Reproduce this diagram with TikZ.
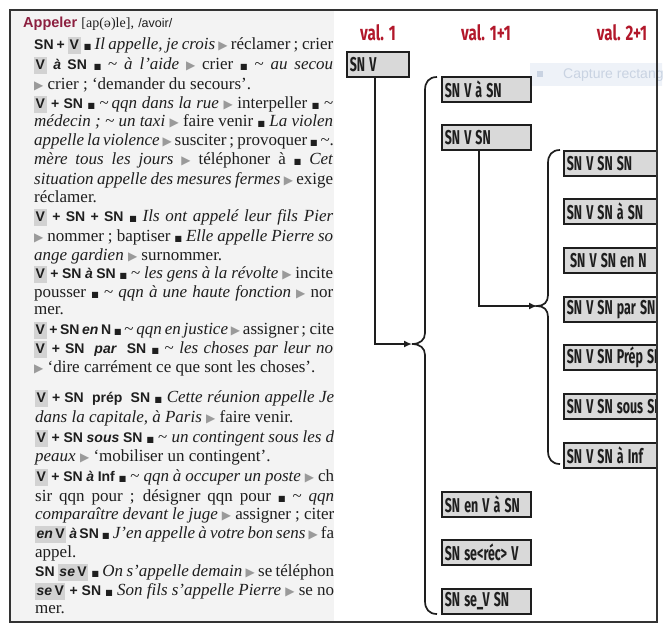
\documentclass[tikz,border=0pt]{standalone}
\usepackage{fontspec}
\usepackage{graphicx}
\setmainfont{Liberation Serif}
\setsansfont{Liberation Sans}
\newfontfamily\djsans{DejaVu Sans}
\newfontfamily\djserif{DejaVu Serif}
\newfontfamily\condf[FakeStretch=0.72]{Fira Sans}
\newfontfamily\firab{Fira Sans}
\usetikzlibrary{arrows.meta}
\definecolor{headred}{HTML}{8C1F3F}
\definecolor{valred}{HTML}{B2182B}
\definecolor{boxfill}{HTML}{D9D9D9}
\definecolor{vgray}{HTML}{D2D2D2}
\definecolor{trigray}{HTML}{9A9A9A}
\definecolor{ink}{HTML}{1E1E1E}
\definecolor{paper}{HTML}{F3F3F3}
\definecolor{capfill}{HTML}{EEF2F8}
\definecolor{captext}{HTML}{C9D3E2}
\newcommand\tri{{\color{trigray}\djsans\fontsize{12}{12}\selectfont ▶}}
\newcommand\sq{{\djsans\fontsize{8}{8}\selectfont ■}}
\newcommand\tl{{\char"007E}}
\newcommand\hd[1]{{\sffamily\bfseries\fontsize{14}{15}\selectfont #1}}
\newcommand\vb[1]{{\setlength\fboxsep{1.5pt}\colorbox{vgray}{\hd{\rule[-3pt]{0pt}{14pt}#1}}}}
\newcommand\fl[1]{\hbox to 299pt{#1}}
\newcommand\bt[1]{\scalebox{0.62}[1]{#1}}
\tikzset{
  dline/.style={anchor=base west, inner sep=0pt, text=ink, font=\fontsize{17}{19}\selectfont},
  bx/.style={draw=ink, line width=1.6pt, fill=boxfill, minimum height=25pt, inner xsep=3pt, inner ysep=0pt,
     anchor=north west, align=left, text=ink, font=\firab\bfseries\fontsize{20}{20}\selectfont},
  vallab/.style={text=valred, inner sep=0pt, font=\condf\bfseries\fontsize{21}{21}\selectfont},
  conn/.style={draw=ink, line width=1.7pt},
  arr/.style={conn, -{Latex[length=8pt,width=7pt]}}
}
\begin{document}
\begin{tikzpicture}[x=1pt,y=-1pt]
\useasboundingbox (0,0) rectangle (668,633);
% left page
\fill[paper] (10,10) rectangle (334,622);
\begin{scope}
\clip (10,10) rectangle (333,622);
\node[dline] (l1) at (23,27) {{\sffamily\bfseries\color{headred}\fontsize{14.5}{16}\selectfont Appeler} {\fontsize{14}{16}\selectfont [ap({\djserif\fontsize{12}{14}\selectfont ə})le],} {\sffamily\fontsize{12.5}{14}\selectfont /avoir/}};
\node[dline] (l2) at (34,49) {\fl{\hd{SN +} \vb{V} \sq\ \textit{Il appelle, je crois} \tri\ réclamer ; crier}};
\node[dline] (l3) at (34,69) {\fl{\vb{V} \hd{\textit{à} SN} \sq\ \tl\ \textit{à l’aide} \tri\ crier \sq\ \tl\ \textit{au secou}}};
\node[dline] (l4) at (34,89) {\tri\ crier ; ‘demander du secours’.};
\node[dline] (l5) at (34,108) {\fl{\vb{V} \hd{+ SN} \sq\ \tl\,\textit{qqn dans la rue} \tri\ interpeller \sq\ \tl}};
\node[dline] (l6) at (34,126) {\fl{\textit{médecin ; \tl\ un taxi} \tri\ faire venir \sq\ \textit{La violen}}};
\node[dline] (l7) at (34,145) {\fl{\textit{appelle la violence} \tri\ susciter ; provoquer \sq\ \tl.}};
\node[dline] (l8) at (34,164) {\fl{\textit{mère tous les jours} \tri\ téléphoner à \sq\ \textit{Cet}}};
\node[dline] (l9) at (34,184) {\fl{\textit{situation appelle des mesures fermes} \tri\ exige}};
\node[dline] (l10) at (34,202) {réclamer.};
\node[dline] (l11) at (34,221) {\fl{\vb{V} \hd{+ SN + SN} \sq\ \textit{Ils ont appelé leur fils Pier}}};
\node[dline] (l12) at (34,241) {\fl{\tri\ nommer ; baptiser \sq\ \textit{Elle appelle Pierre so}}};
\node[dline] (l13) at (34,260) {\textit{ange gardien} \tri\ surnommer.};
\node[dline] (l14) at (34,278) {\fl{\vb{V} \hd{+ SN \textit{à} SN} \sq\ \tl\ \textit{les gens à la révolte} \tri\ incite}};
\node[dline] (l15) at (34,297) {\fl{pousser \sq\ \tl\ \textit{qqn à une haute fonction} \tri\ nor}};
\node[dline] (l16) at (34,314) {mer.};
\node[dline] (l17) at (34,334) {\fl{\vb{V} \hd{+ SN \textit{en} N} \sq\ \tl\ \textit{qqn en justice} \tri\ assigner ; cite}};
\node[dline] (l18) at (34,353) {\fl{\vb{V} \hd{+ SN \ \textit{par} \ SN} \sq\ \tl\ \textit{les choses par leur no}}};
\node[dline] (l19) at (34,372) {\tri\ ‘dire carrément ce que sont les choses’.};
\node[dline] (l20) at (35,402) {\fl{\vb{V} \hd{+ SN \ prép \ SN} \sq\ \textit{Cette réunion appelle Je}}};
\node[dline] (l21) at (35,422) {\textit{dans la capitale, à Paris} \tri\ faire venir.};
\node[dline] (l22) at (35,442) {\fl{\vb{V} \hd{+ SN \textit{sous} SN} \sq\ \tl\ \textit{un contingent sous les d}}};
\node[dline] (l23) at (35,461) {\textit{peaux} \tri\ ‘mobiliser un contingent’.};
\node[dline] (l24) at (35,481) {\fl{\vb{V} \hd{+ SN \textit{à} Inf} \sq\ \tl\ \textit{qqn à occuper un poste} \tri\ ch}};
\node[dline] (l25) at (35,501) {\fl{sir qqn pour ; désigner qqn pour \sq\ \tl\ \textit{qqn}}};
\node[dline] (l26) at (35,519) {\fl{\textit{comparaître devant le juge} \tri\ assigner ; citer}};
\node[dline] (l27) at (35,538) {\fl{\vb{\textit{en}\,V} \hd{\textit{à}\,SN} \sq\ \textit{J’en appelle à votre bon sens} \tri\ fa}};
\node[dline] (l28) at (35,557) {appel.};
\node[dline] (l29) at (35,576) {\fl{\hd{SN} \vb{\textit{se}\,V} \sq\ \textit{On s’appelle demain} \tri\ se téléphon}};
\node[dline] (l30) at (35,595) {\fl{\vb{\textit{se}\,V} \hd{+ SN} \sq\ \textit{Son fils s’appelle Pierre} \tri\ se no}};
\node[dline] (l31) at (35,613) {mer.};
\end{scope}
% screenshot overlay
\begin{scope}
\clip (520,55) rectangle (662,95);
\fill[capfill] (530,63) rectangle (664,86);
\fill[captext] (537,71) rectangle (543,77);
\node[anchor=west, inner sep=0pt, text=captext, font=\sffamily\fontsize{14}{14}\selectfont] (cap) at (563,75) {Capture rectang};
\end{scope}
% right diagram
\node[vallab] (v1) at (378,33) {val. 1};
\node[vallab] (v2) at (486,33) {val. 1+1};
\node[vallab] (v3) at (622,33) {val. 2+1};
\node[bx, text width=56pt] (snv) at (346,51) {\bt{SN V}};
\node[bx, text width=83pt] (b1) at (441,76) {\bt{SN V à SN}};
\node[bx, text width=83pt] (b2) at (441,124) {\bt{SN V SN}};
\node[bx, text width=83pt] (b3) at (441,491) {\bt{SN en V à SN}};
\node[bx, text width=83pt] (b4) at (441,539) {\bt{SN se<réc> V}};
\node[bx, text width=83pt] (b5) at (441,588) {\bt{SN se\_V SN}};
\begin{scope}
\clip (10,10) rectangle (657,622);
\node[bx, text width=200pt] (r1) at (563,150) {\bt{SN V SN SN}};
\node[bx, text width=200pt] (r2) at (563,198) {\bt{SN V SN à SN}};
\node[bx, text width=200pt] (r3) at (563,247) {\,\bt{SN V SN en N}};
\node[bx, text width=200pt] (r4) at (563,296) {\bt{SN V SN par SN}};
\node[bx, text width=200pt] (r5) at (563,344) {\bt{SN V SN Prép SN}};
\node[bx, text width=200pt] (r6) at (563,393) {\bt{SN V SN sous SN}};
\node[bx, text width=200pt] (r7) at (563,442) {\bt{SN V SN à Inf}};
\end{scope}
% braces
\coordinate (c1) at (412,344);
\coordinate (c2) at (537,306);
\draw[conn] (437,77) .. controls (429,77) and (425,82) .. (425,90) -- (425,333)
  .. controls (425,340) and (420,344) .. (c1)
  .. controls (420,344) and (425,348) .. (425,355) -- (425,601)
  .. controls (425,609) and (429,614) .. (437,614);
\draw[conn] (560,150) .. controls (552,150) and (548,155) .. (548,163) -- (548,295)
  .. controls (548,302) and (544,306) .. (c2)
  .. controls (544,306) and (548,310) .. (548,317) -- (548,451)
  .. controls (548,459) and (552,464) .. (560,464);
\draw[arr] ([xshift=-3pt]snv.south) |- (c1);
\draw[arr] ([xshift=-7pt]b2.south) |- (c2);
% frame
\draw[line width=1.3pt, draw=black!80] (10,10) rectangle (657,622);
\end{tikzpicture}
\end{document}
